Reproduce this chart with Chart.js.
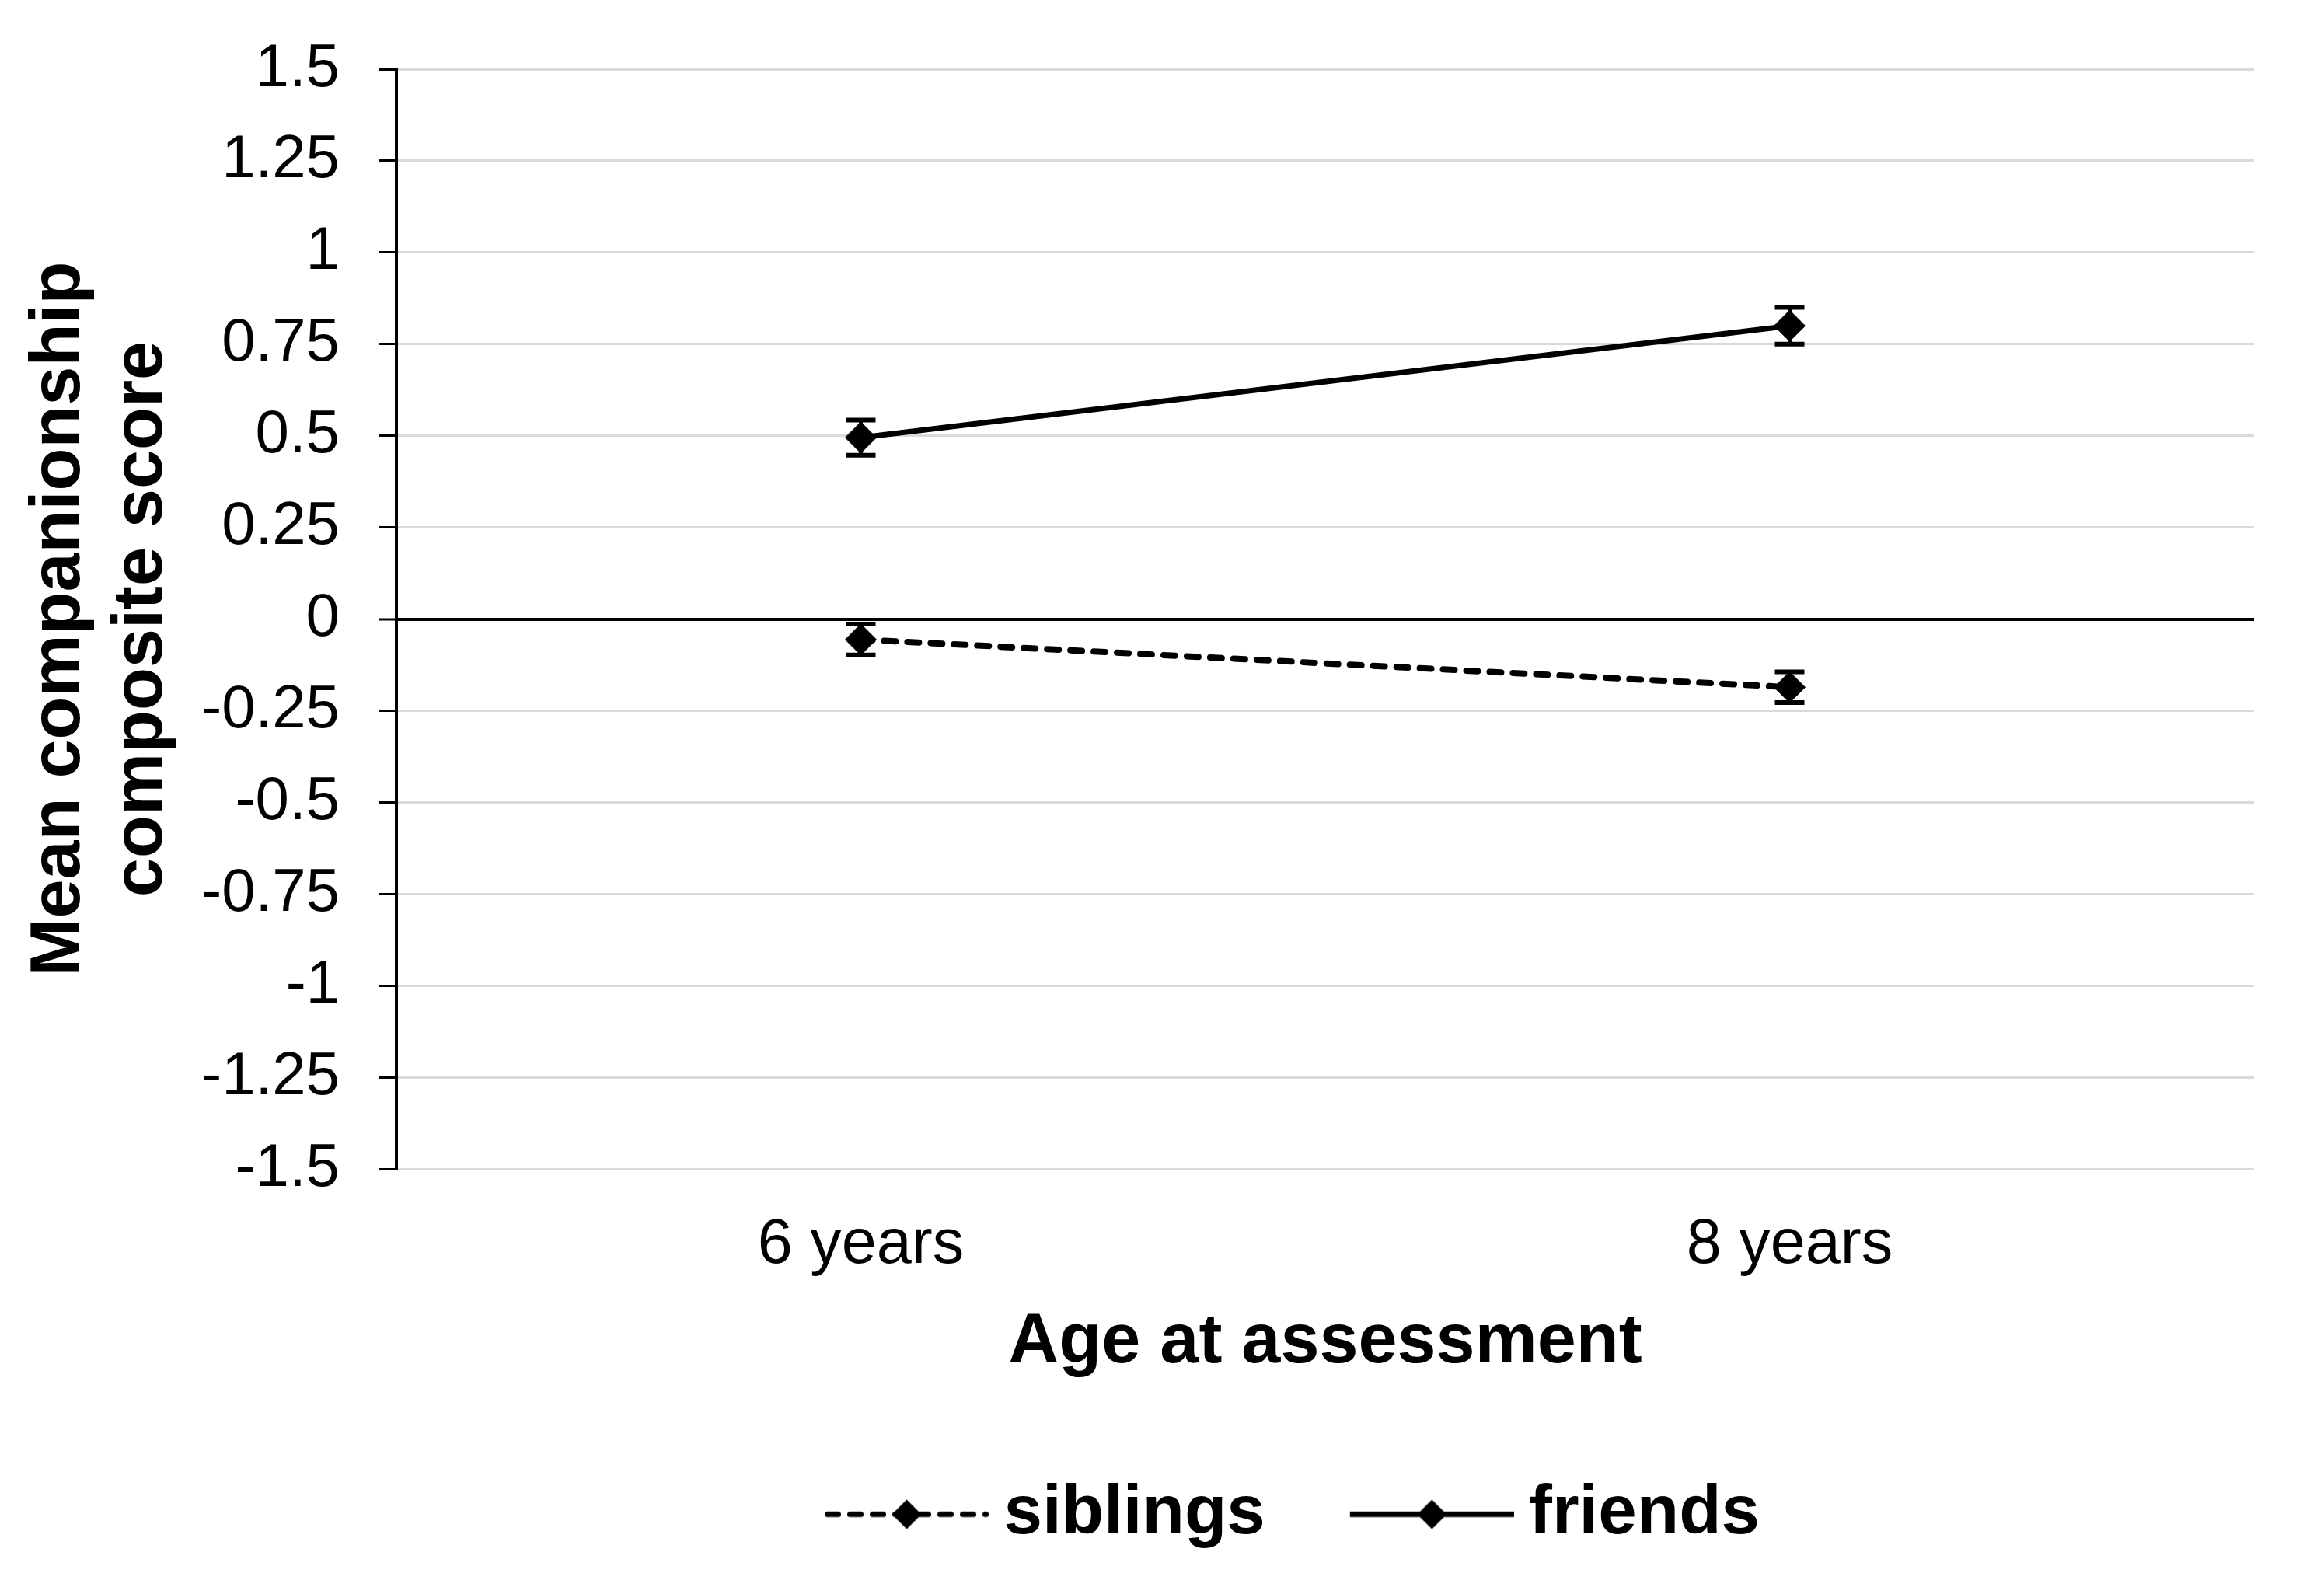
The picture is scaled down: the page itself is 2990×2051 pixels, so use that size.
<!DOCTYPE html>
<html>
<head>
<meta charset="utf-8">
<script src="https://cdn.jsdelivr.net/npm/chart.js@4.4.1/dist/chart.umd.min.js"></script>
<style>
  html, body { margin: 0; padding: 0; background: #ffffff; }
  canvas { display: block; }
</style>
</head>
<body>
<canvas id="c" width="2990" height="2051"></canvas>
<script>
// ---- data ----
const categories = ['6 years', '8 years'];
const siblingsValues = [-0.056, -0.186];
const siblingsErrors = [0.042, 0.042];
const friendsValues = [0.495, 0.80];
const friendsErrors = [0.048, 0.05];
const yTickValues = [-1.5, -1.25, -1, -0.75, -0.5, -0.25, 0, 0.25, 0.5, 0.75, 1, 1.25, 1.5];
const seriesNames = ['siblings', 'friends'];

const FONT = "'Liberation Sans', Arial, Helvetica, sans-serif";

// legend sample images (line + diamond), transparent on the left part
function legendSample(dashed) {
  const W = 325, H = 50, vis = 211;
  const cv = document.createElement('canvas');
  cv.width = W; cv.height = H;
  const g = cv.getContext('2d');
  const x0 = W - vis, cy = H / 2;
  g.strokeStyle = '#000';
  g.lineWidth = 7;
  g.lineCap = dashed ? 'round' : 'butt';
  if (dashed) g.setLineDash([14, 15]);
  g.beginPath();
  g.moveTo(x0 + (dashed ? 3.5 : 0), cy);
  g.lineTo(W - (dashed ? 3.5 : 0), cy);
  g.stroke();
  g.setLineDash([]);
  const cx = x0 + vis / 2, r = 19;
  g.fillStyle = '#000';
  g.beginPath();
  g.moveTo(cx - r, cy); g.lineTo(cx, cy - r); g.lineTo(cx + r, cy); g.lineTo(cx, cy + r);
  g.closePath();
  g.fill();
  return cv;
}
const legendImgs = [legendSample(true), legendSample(false)];

const errorBarPlugin = {
  id: 'errorBars',
  beforeDatasetsDraw(chart) {
    const ctx = chart.ctx;
    const y = chart.scales.y;
    const errs = [siblingsErrors, friendsErrors];
    ctx.save();
    ctx.strokeStyle = '#000';
    chart.data.datasets.forEach((ds, i) => {
      const meta = chart.getDatasetMeta(i);
      meta.data.forEach((pt, j) => {
        const v = ds.data[j], e = errs[i][j];
        const yt = y.getPixelForValue(v + e), yb = y.getPixelForValue(v - e);
        ctx.lineWidth = 5;
        ctx.beginPath();
        ctx.moveTo(pt.x, yt); ctx.lineTo(pt.x, yb);
        ctx.stroke();
        ctx.lineWidth = 6;
        ctx.beginPath();
        ctx.moveTo(pt.x - 19, yt); ctx.lineTo(pt.x + 19, yt);
        ctx.moveTo(pt.x - 19, yb); ctx.lineTo(pt.x + 19, yb);
        ctx.stroke();
      });
    });
    ctx.restore();
  }
};

const bgPlugin = {
  id: 'bg',
  beforeDraw(chart) {
    const ctx = chart.ctx;
    ctx.save();
    ctx.fillStyle = '#ffffff';
    ctx.fillRect(0, 0, chart.width, chart.height);
    ctx.restore();
  }
};

const legendShiftPlugin = {
  id: 'legendShift',
  afterLayout(chart) {
    const l = chart.legend;
    if (l) { l.left += 168; l.right += 168; }
  }
};

new Chart(document.getElementById('c'), {
  type: 'line',
  data: {
    labels: categories,
    datasets: [
      {
        label: seriesNames[0],
        data: siblingsValues,
        borderColor: '#000',
        backgroundColor: '#000',
        borderWidth: 8,
        borderDash: [15, 15],
        borderCapStyle: 'round',
        pointStyle: 'rectRot',
        pointRadius: 20,
        pointBackgroundColor: '#000',
        pointBorderColor: '#000',
        pointBorderWidth: 1,
        tension: 0
      },
      {
        label: seriesNames[1],
        data: friendsValues,
        borderColor: '#000',
        backgroundColor: '#000',
        borderWidth: 7,
        pointStyle: 'rectRot',
        pointRadius: 20,
        pointBackgroundColor: '#000',
        pointBorderColor: '#000',
        pointBorderWidth: 1,
        tension: 0
      }
    ]
  },
  options: {
    responsive: false,
    devicePixelRatio: 1,
    animation: false,
    layout: { padding: { top: 89, right: 90, bottom: 48, left: 0 } },
    plugins: {
      tooltip: { enabled: false },
      legend: {
        display: true,
        position: 'bottom',
        align: 'center',
        labels: {
          usePointStyle: true,
          pointStyleWidth: 275,
          boxHeight: 40,
          padding: 20,
          color: '#000',
          font: { family: FONT, size: 89, weight: 'bold' },
          generateLabels: () => seriesNames.map((n, i) => ({
            text: n,
            pointStyle: legendImgs[i],
            fillStyle: '#000',
            strokeStyle: '#000',
            lineWidth: 0,
            hidden: false,
            datasetIndex: i,
            fontColor: '#000'
          }))
        }
      }
    },
    scales: {
      x: {
        type: 'category',
        offset: true,
        grid: { display: false, drawTicks: false },
        border: { display: false },
        ticks: {
          color: '#000',
          padding: 50,
          font: { family: FONT, size: 81 },
          maxRotation: 0
        },
        title: {
          display: true,
          text: 'Age at assessment',
          color: '#000',
          font: { family: FONT, size: 90, weight: 'bold', lineHeight: 1.2 },
          padding: { top: 0, bottom: 102 }
        },
        afterFit(scale) { scale.height = 380; }
      },
      y: {
        min: -1.5,
        max: 1.5,
        afterBuildTicks(scale) { scale.ticks = yTickValues.map(v => ({ value: v })); },
        grid: {
          color: (c) => (c.tick && c.tick.value === 0 ? '#000000' : '#d9d9d9'),
          lineWidth: (c) => (c.tick && c.tick.value === 0 ? 4 : 3),
          tickColor: '#000000',
          tickWidth: 3,
          tickLength: 23,
          drawTicks: true
        },
        border: { display: true, color: '#000', width: 4 },
        ticks: {
          color: '#000',
          padding: 50,
          font: { family: FONT, size: 78, lineHeight: 1.0 },
          callback: (v) => String(Number(v.toFixed(2)))
        },
        title: {
          display: true,
          text: ['Mean companionship', 'composite score'],
          color: '#000',
          font: { family: FONT, size: 90, weight: 'bold', lineHeight: 1.178 },
          padding: { top: 24, bottom: 0 }
        },
        afterFit(scale) { scale.width = 510; }
      }
    }
  },
  plugins: [bgPlugin, errorBarPlugin, legendShiftPlugin]
});
</script>
</body>
</html>
